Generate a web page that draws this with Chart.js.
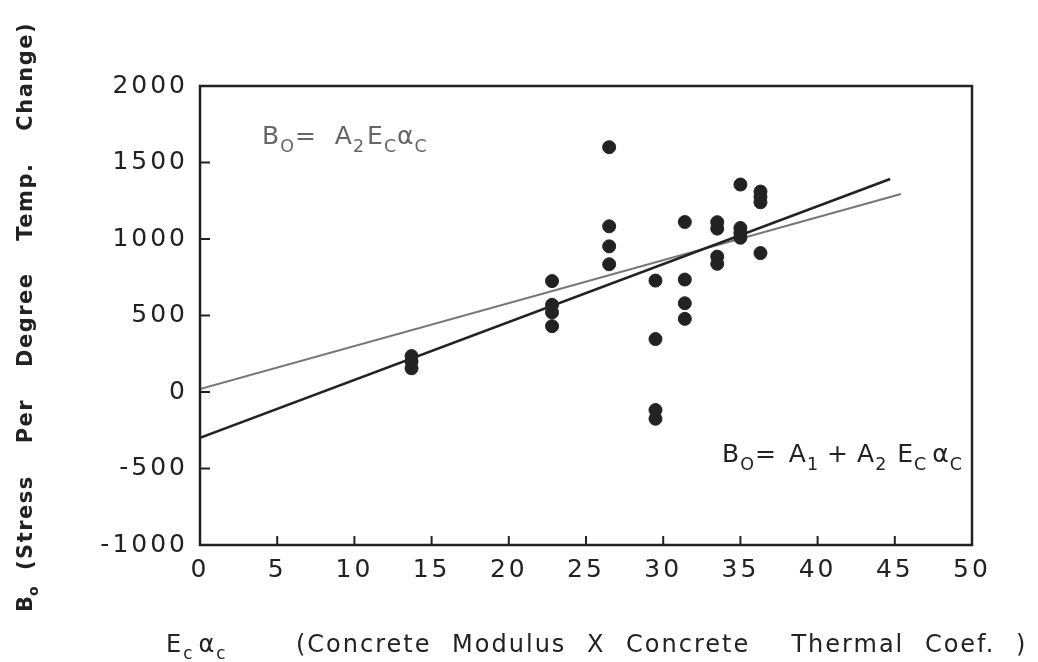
<!DOCTYPE html>
<html>
<head>
<meta charset="utf-8">
<script src="https://cdn.jsdelivr.net/npm/chart.js@4.4.0/dist/chart.umd.min.js"></script>
<style>
  html, body { margin: 0; padding: 0; background: #fff; }
  #wrap { width: 1038px; height: 662px; }
</style>
</head>
<body>
<div id="wrap"><canvas id="myChart" width="1038" height="662"></canvas></div>
<script>
// valori
var xTicks = [0, 5, 10, 15, 20, 25, 30, 35, 40, 45, 50];
var yTicks = [-1000, -500, 0, 500, 1000, 1500, 2000];

var pointX = [13.7, 13.7, 13.7,
              22.8, 22.8, 22.8, 22.8,
              26.5, 26.5, 26.5, 26.5,
              29.5, 29.5, 29.5, 29.5,
              31.4, 31.4, 31.4, 31.4,
              33.5, 33.5, 33.5, 33.5,
              35.0, 35.0, 35.0, 35.0,
              36.3, 36.3, 36.3, 36.3];
var pointY = [235, 200, 155,
              725, 570, 520, 430,
              1600, 1083, 952, 835,
              728, 346, -118, -175,
              1111, 735, 580, 478,
              1110, 1068, 885, 838,
              1356, 1072, 1040, 1008,
              1310, 1275, 1240, 908];

// dreapta cu intercept (neagra) si prin origine (gri)
var fitX = [0, 44.7];
var fitY = [-300, 1392];
var originX = [0, 45.4];
var originY = [20, 1294];

function pairs(xs, ys) {
    return xs.map(function (x, i) { return { x: x, y: ys[i] }; });
}

var ink = '#222';
var fontName = "'DejaVu Sans', sans-serif";

// scrie text cu indici (subscript)
function drawParts(ctx, parts, x, y, size) {
    parts.forEach(function (p) {
        var s = p.sub ? size * 0.7 : size;
        ctx.font = s + 'px ' + fontName;
        ctx.fillText(p.t, x, y + (p.sub ? size * 0.3 : 0));
        x += ctx.measureText(p.t).width + (p.gap || 0);
    });
}

var framePlugin = {
    id: 'frame',
    beforeDraw: function (chart) {
        chart.ctx.letterSpacing = '3px';
    },
    afterDraw: function (chart) {
        var ctx = chart.ctx, a = chart.chartArea;
        var xs = chart.scales.x, ys = chart.scales.y;
        ctx.save();
        ctx.strokeStyle = ink;
        ctx.lineWidth = 2.5;
        ctx.strokeRect(a.left, a.top, a.right - a.left, a.bottom - a.top);
        ctx.lineWidth = 2;
        ctx.beginPath();
        xTicks.slice(1, -1).forEach(function (v) {
            var px = xs.getPixelForValue(v);
            ctx.moveTo(px, a.bottom);
            ctx.lineTo(px, a.bottom - 9);
        });
        yTicks.slice(1, -1).forEach(function (v) {
            var py = ys.getPixelForValue(v);
            ctx.moveTo(a.left, py);
            ctx.lineTo(a.left + 10, py);
        });
        ctx.stroke();

        ctx.textBaseline = 'alphabetic';
        ctx.letterSpacing = '1px';

        // formula gri
        ctx.fillStyle = '#666';
        drawParts(ctx, [
            { t: 'B' }, { t: 'O', sub: true }, { t: '=', gap: 18 },
            { t: 'A' }, { t: '2', sub: true, gap: 2 }, { t: 'E' }, { t: 'C', sub: true }, { t: 'α' }, { t: 'C', sub: true }
        ], 262, 144, 25);

        // formula neagra
        ctx.fillStyle = ink;
        drawParts(ctx, [
            { t: 'B' }, { t: 'O', sub: true }, { t: '=', gap: 12 },
            { t: 'A' }, { t: '1', sub: true, gap: 8 }, { t: '+', gap: 8 },
            { t: 'A' }, { t: '2', sub: true, gap: 10 }, { t: 'E' }, { t: 'C', sub: true, gap: 5 }, { t: 'α' }, { t: 'C', sub: true }
        ], 722, 462, 25);

        // titlu axa x
        ctx.letterSpacing = '2px';
        ctx.wordSpacing = '11px';
        drawParts(ctx, [{ t: 'E' }, { t: 'c', sub: true, gap: 4 }, { t: 'α' }, { t: 'c', sub: true }], 166, 652, 24);
        ctx.font = '24px ' + fontName;
        ctx.fillText('(Concrete Modulus X Concrete  Thermal Coef. )', 296, 652);

        // titlu axa y
        ctx.translate(32, 612);
        ctx.rotate(-Math.PI / 2);
        ctx.letterSpacing = '1.5px';
        ctx.wordSpacing = '23px';
        ctx.font = 'bold 21px ' + fontName;
        ctx.fillText('B', 0, 0);
        ctx.font = 'bold 14px ' + fontName;
        ctx.fillText('o', 16, 6);
        ctx.font = 'bold 21px ' + fontName;
        ctx.fillText('(Stress Per Degree Temp. Change)', 42, 0);
        ctx.restore();
    }
};

var ctx = document.getElementById('myChart').getContext('2d');

var myChart = new Chart(ctx, {
    type: 'scatter',
    data: {
        datasets: [{
            label: 'Date',
            data: pairs(pointX, pointY),
            backgroundColor: ink,
            borderColor: ink,
            pointRadius: 6.5,
            pointHoverRadius: 6.5
        }, {
            label: 'A1 + A2 EcAc',
            data: pairs(fitX, fitY),
            showLine: true,
            borderColor: ink,
            borderWidth: 2.5,
            pointRadius: 0
        }, {
            label: 'A2 EcAc',
            data: pairs(originX, originY),
            showLine: true,
            borderColor: '#777',
            borderWidth: 2,
            pointRadius: 0
        }]
    },
    options: {
        responsive: false,
        animation: false,
        layout: { padding: { top: 86, right: 66, left: 0, bottom: 0 } },
        plugins: { legend: { display: false }, tooltip: { enabled: false } },
        scales: {
            x: {
                min: 0, max: 50,
                afterBuildTicks: function (s) { s.ticks = xTicks.map(function (v) { return { value: v }; }); },
                afterFit: function (s) { s.height = 117; },
                grid: { display: false, drawTicks: false },
                border: { display: false },
                ticks: {
                    color: ink, padding: 10, maxRotation: 0,
                    font: { family: fontName, size: 25 },
                    callback: function (v) { return String(v); }
                }
            },
            y: {
                min: -1000, max: 2000,
                afterBuildTicks: function (s) { s.ticks = yTicks.map(function (v) { return { value: v }; }); },
                afterFit: function (s) { s.width = 200; },
                grid: { display: false, drawTicks: false },
                border: { display: false },
                ticks: {
                    color: ink, padding: 12,
                    font: { family: fontName, size: 25 },
                    callback: function (v) { return String(v); }
                }
            }
        }
    },
    plugins: [framePlugin]
});
</script>
</body>
</html>
